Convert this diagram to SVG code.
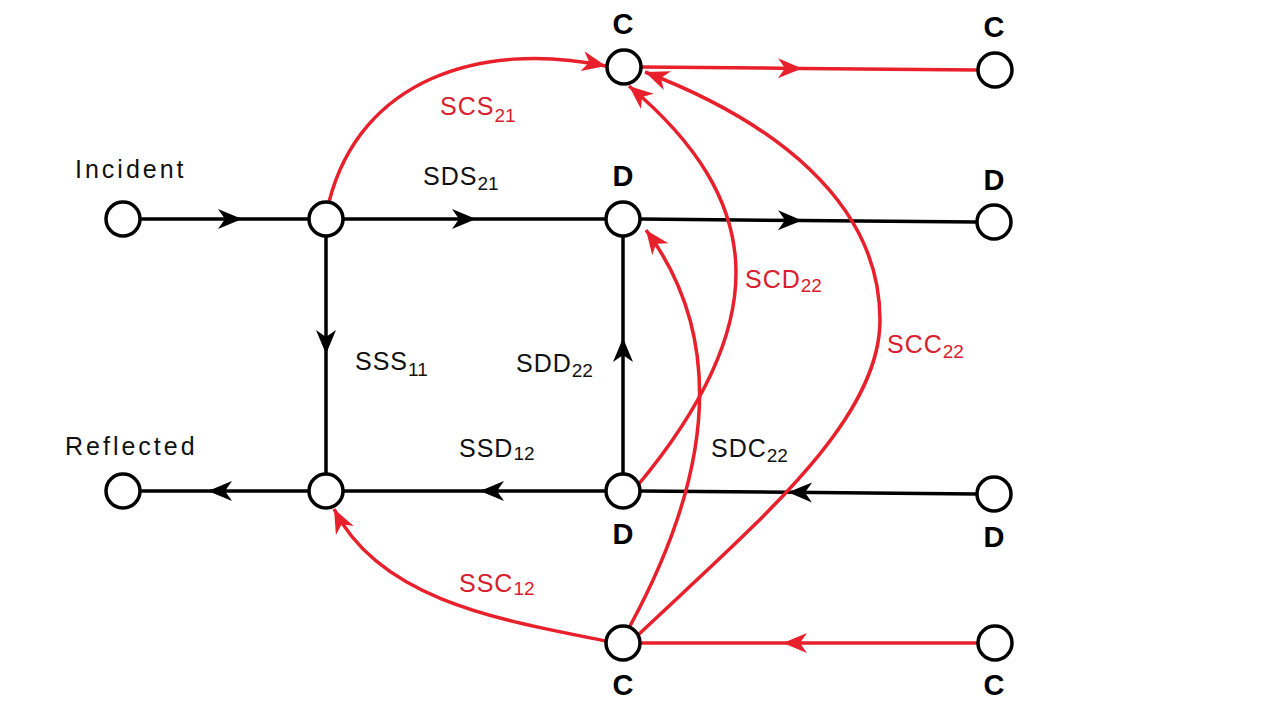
<svg xmlns="http://www.w3.org/2000/svg" width="1280" height="721" viewBox="0 0 1280 721">
<style>
.node circle{fill:#fff;stroke:#000;stroke-width:3.5}
.nl{font-family:"Liberation Sans",Arial,sans-serif;font-weight:bold;font-size:29px;fill:#000;text-anchor:middle}
.bk{fill:none;stroke:#000;stroke-width:3.5}
.rd{fill:none;stroke:#e8202c;stroke-width:3.5}
.lb{font-family:"Liberation Sans",Arial,sans-serif;font-size:25px;fill:#111;letter-spacing:1px}
.lr{font-family:"Liberation Sans",Arial,sans-serif;font-size:25px;fill:#d8202f;letter-spacing:1px}
.sub{font-size:19px;letter-spacing:0}
.io{font-family:"Liberation Sans",Arial,sans-serif;font-size:25px;fill:#111;letter-spacing:3px}
</style>
<defs>
<marker id="ab" markerUnits="userSpaceOnUse" viewBox="-26 -12 28 24" refX="0" refY="0" markerWidth="28" markerHeight="24" orient="auto">
<path d="M-24,-10 L0,0 L-24,10 L-17,0 Z" fill="#000"/>
</marker>
<marker id="ar" markerUnits="userSpaceOnUse" viewBox="-26 -12 28 24" refX="0" refY="0" markerWidth="28" markerHeight="24" orient="auto">
<path d="M-24,-10 L0,0 L-24,10 L-17,0 Z" fill="#e8202c"/>
</marker>
</defs>
<rect width="1280" height="721" fill="#fff"/>
<g id="connectors">
<path class="bk" d="M141,219 L242,219 L309,219" marker-mid="url(#ab)"/>
<path class="bk" d="M343,219 L476,219 L606,219" marker-mid="url(#ab)"/>
<path class="bk" d="M640,219 L802,220.5 L977,222" marker-mid="url(#ab)"/>
<path class="bk" d="M326,236 L326,354 L326,474" marker-mid="url(#ab)"/>
<path class="bk" d="M623,474 L623,338 L623,236" marker-mid="url(#ab)"/>
<path class="bk" d="M309,491 L208,491 L141,491" marker-mid="url(#ab)"/>
<path class="bk" d="M606,491 L480,491 L343,491" marker-mid="url(#ab)"/>
<path class="bk" d="M977,494 L788,492.3 L640,491" marker-mid="url(#ab)"/>
<path class="rd" d="M641,67 L802,68.4 L978,70" marker-mid="url(#ar)"/>
<path class="rd" d="M978,643 L783,643 L640,643" marker-mid="url(#ar)"/>
<path class="rd" d="M329,202 C360,80 480,40 606,66" marker-end="url(#ar)"/>
<path class="rd" d="M606,641 C500,620 380,600 334,509" marker-end="url(#ar)"/>
<path class="rd" d="M638,485 C775,320 765,200 629,86" marker-end="url(#ar)"/>
<path class="rd" d="M630,626 C720,460 720,330 646,230" marker-end="url(#ar)"/>
<path class="rd" d="M638,635 C760,520 880,420 880,320 C880,200 770,120 645,72" marker-end="url(#ar)"/>
</g>
<g id="edge-labels">
<text class="lr" x="440" y="115">SCS<tspan class="sub" dy="7">21</tspan></text>
<text class="lb" x="423" y="185">SDS<tspan class="sub" dy="5">21</tspan></text>
<text class="lb" x="355" y="370">SSS<tspan class="sub" dy="6">11</tspan></text>
<text class="lb" x="516" y="372">SDD<tspan class="sub" dy="5">22</tspan></text>
<text class="lb" x="459" y="457">SSD<tspan class="sub" dy="3" font-size="16">12</tspan></text>
<text class="lb" x="711" y="457">SDC<tspan class="sub" dy="5">22</tspan></text>
<text class="lr" x="745" y="288">SCD<tspan class="sub" dy="4">22</tspan></text>
<text class="lr" x="887" y="353">SCC<tspan class="sub" dy="5">22</tspan></text>
<text class="lr" x="459" y="592">SSC<tspan class="sub" dy="3" font-size="16">12</tspan></text>
<text class="io" x="75" y="178">Incident</text>
<text class="io" x="65" y="455">Reflected</text>
</g>
<g id="n-incident" class="node"><circle cx="123" cy="219" r="17"/></g>
<g id="n-a" class="node"><circle cx="326" cy="219" r="17"/></g>
<g id="n-dtop" class="node"><circle cx="623" cy="219" r="17"/><text class="nl" x="623" y="186">D</text></g>
<g id="n-dtopright" class="node"><circle cx="994" cy="222" r="17"/><text class="nl" x="994" y="190">D</text></g>
<g id="n-ctop" class="node"><circle cx="624" cy="67" r="17"/><text class="nl" x="623" y="34">C</text></g>
<g id="n-ctopright" class="node"><circle cx="995" cy="70" r="17"/><text class="nl" x="994" y="37">C</text></g>
<g id="n-reflected" class="node"><circle cx="123" cy="491" r="17"/></g>
<g id="n-b" class="node"><circle cx="326" cy="491" r="17"/></g>
<g id="n-dbot" class="node"><circle cx="623" cy="491" r="17"/><text class="nl" x="623" y="544">D</text></g>
<g id="n-dbotright" class="node"><circle cx="994" cy="494" r="17"/><text class="nl" x="994" y="547">D</text></g>
<g id="n-cbot" class="node"><circle cx="623" cy="643" r="17"/><text class="nl" x="623" y="695">C</text></g>
<g id="n-cbotright" class="node"><circle cx="995" cy="643" r="17"/><text class="nl" x="994" y="695">C</text></g>
</svg>
